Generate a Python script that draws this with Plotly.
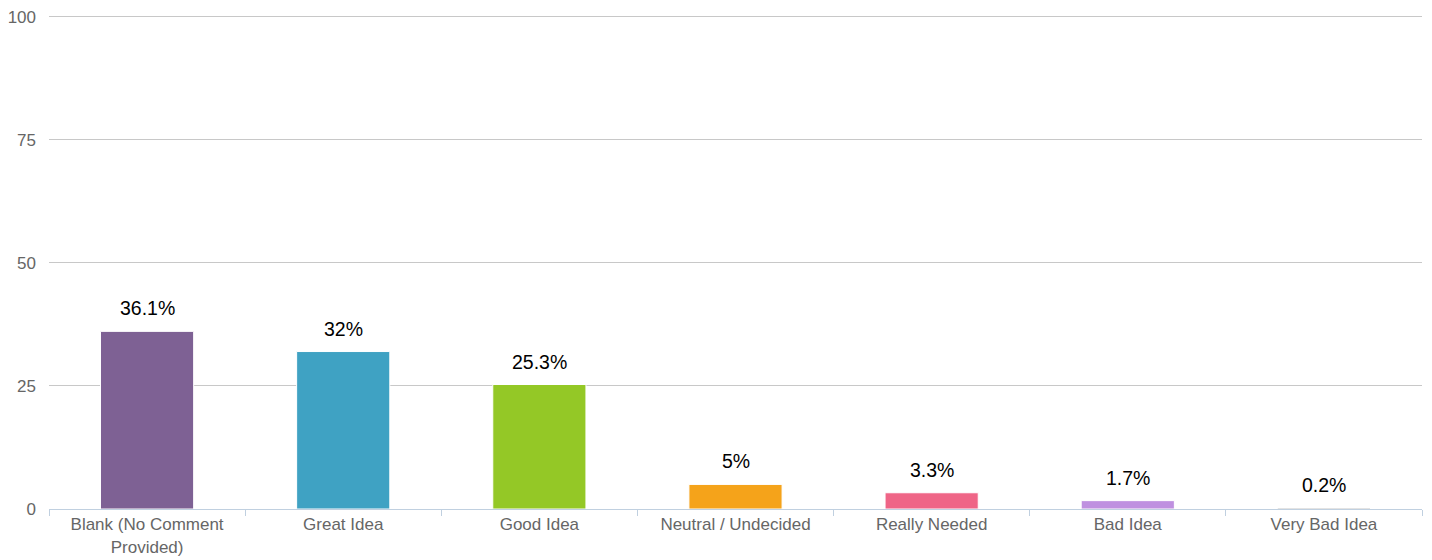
import plotly.graph_objects as go

categories = ["Blank (No Comment<br>Provided)", "Great Idea", "Good Idea", "Neutral / Undecided",
              "Really Needed", "Bad Idea", "Very Bad Idea"]
values = [36.1, 32, 25.3, 5, 3.3, 1.7, 0.2]
labels = ["36.1%", "32%", "25.3%", "5%", "3.3%", "1.7%", "0.2%"]
colors = ["#7E6194", "#3FA2C3", "#94C826", "#F5A31A", "#EF6587", "#BF90E0", "#8C8C8C"]
y_ticks = [0, 25, 50, 75, 100]

FONT = "Liberation Sans, Arial, Helvetica, sans-serif"

fig = go.Figure()
fig.add_trace(go.Bar(
    x=categories, y=values,
    marker=dict(color=colors, line=dict(color="white", width=1)),
    width=0.475, hoverinfo="x+y",
))
for c, v, t in zip(categories, values, labels):
    fig.add_annotation(x=c, y=v, text=t, showarrow=False, yanchor="bottom", yshift=10,
                       font=dict(family=FONT, size=19.5, color="#000000"))

fig.update_layout(
    width=1432, height=560,
    margin=dict(l=49, r=10, t=14, b=51, autoexpand=False),
    plot_bgcolor="white", paper_bgcolor="white",
    showlegend=False,
    font=dict(family=FONT, size=17, color="#666666"),
    xaxis=dict(
        type="category", showgrid=False, showline=True, linecolor="#C0D0E0", linewidth=1,
        ticks="outside", tickson="boundaries", ticklen=6, tickcolor="#C0D0E0",
        tickfont=dict(family=FONT, size=17, color="#666666"), zeroline=False,
        automargin=False, ticklabeloverflow="allow",
    ),
    yaxis=dict(
        range=[0, 100.6], tickvals=y_ticks, showgrid=True, gridcolor="#C8C8C8", gridwidth=1,
        zeroline=False, showline=False, ticks="", ticklabelstandoff=12,
        tickfont=dict(family=FONT, size=17, color="#666666"), automargin=False,
        ticklabeloverflow="allow",
    ),
)
fig.write_html("out.html", config={"displayModeBar": False},
               post_script="document.body.style.margin='0';document.body.style.overflow='hidden';")
